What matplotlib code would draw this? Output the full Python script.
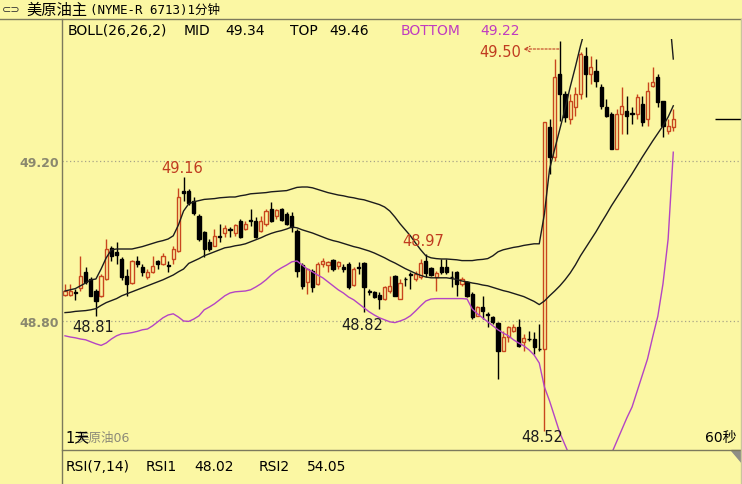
import matplotlib.pyplot as plt
from matplotlib.lines import Line2D
from matplotlib.patches import Polygon
import numpy as np

W, H = 742, 485
BG = '#fbf7a3'
UP = '#c8461e'
LABEL_RED = '#c03c20'
DARK = '#1c1c1c'
PURPLE = '#b444c4'
FRAME = '#7c7a5c'

# 1-minute candles
opens = [48.866, 48.866, 48.872, 48.882, 48.923, 48.905, 48.876, 48.863, 48.905, 48.982,
         48.972, 48.955, 48.912, 48.895, 48.951, 48.934, 48.909, 48.922, 48.949, 48.943,
         48.939, 48.955, 48.976, 49.125, 49.126, 49.100, 49.063, 49.022, 48.998, 48.988,
         49.012, 49.020, 49.030, 49.020, 49.051, 49.030, 49.052, 49.051, 49.026, 49.042,
         49.080, 49.063, 49.080, 49.067, 49.063, 49.025, 48.940, 48.897, 48.926, 48.893,
         48.943, 48.940, 48.952, 48.938, 48.934, 48.943, 48.890, 48.935, 48.945, 48.874,
         48.872, 48.866, 48.855, 48.874, 48.912, 48.856, 48.906, 48.918, 48.905, 48.910,
         48.950, 48.932, 48.910, 48.934, 48.934, 48.911, 48.922, 48.892, 48.897, 48.867,
         48.813, 48.834, 48.818, 48.809, 48.795, 48.726, 48.759, 48.776, 48.784, 48.747,
         48.756, 48.755, 48.731, 48.730, 49.284, 49.209, 49.418, 49.368, 49.305, 49.334,
         49.368, 49.463, 49.418, 49.426, 49.384, 49.334, 49.318, 49.230, 49.318, 49.326,
         49.320, 49.318, 49.343, 49.305, 49.388, 49.409, 49.351, 49.276, 49.284]
highs = [48.892, 48.892, 48.880, 48.962, 48.934, 48.909, 48.880, 48.917, 49.005, 48.988,
         48.998, 48.959, 48.930, 48.952, 48.962, 48.943, 48.930, 48.962, 48.952, 48.970,
         48.951, 48.988, 49.132, 49.159, 49.130, 49.110, 49.068, 49.026, 49.005, 49.030,
         49.042, 49.040, 49.034, 49.042, 49.055, 49.051, 49.080, 49.059, 49.063, 49.080,
         49.098, 49.080, 49.082, 49.072, 49.072, 49.030, 48.945, 48.932, 48.930, 48.947,
         48.957, 48.950, 48.955, 48.950, 48.943, 48.947, 48.935, 48.947, 48.948, 48.880,
         48.876, 48.872, 48.887, 48.913, 48.915, 48.905, 48.909, 48.922, 48.926, 48.955,
         48.968, 48.935, 48.926, 48.955, 48.955, 48.926, 48.926, 48.909, 48.900, 48.872,
         48.838, 48.863, 48.823, 48.813, 48.797, 48.776, 48.788, 48.792, 48.805, 48.768,
         48.776, 48.772, 48.792, 49.297, 49.305, 49.455, 49.500, 49.376, 49.368, 49.384,
         49.472, 49.484, 49.463, 49.455, 49.393, 49.355, 49.322, 49.330, 49.384, 49.363,
         49.334, 49.368, 49.363, 49.397, 49.434, 49.418, 49.351, 49.305, 49.330]
lows = [48.863, 48.863, 48.853, 48.876, 48.892, 48.863, 48.813, 48.861, 48.903, 48.951,
        48.943, 48.903, 48.863, 48.892, 48.934, 48.913, 48.905, 48.920, 48.930, 48.940,
        48.923, 48.943, 48.972, 49.100, 49.090, 49.065, 49.000, 48.959, 48.976, 48.987,
        48.997, 49.009, 49.009, 49.012, 49.007, 49.028, 49.038, 49.007, 49.022, 49.038,
        49.048, 49.055, 49.050, 49.040, 49.022, 48.910, 48.880, 48.868, 48.872, 48.890,
        48.936, 48.922, 48.925, 48.930, 48.923, 48.880, 48.888, 48.918, 48.822, 48.865,
        48.857, 48.830, 48.853, 48.870, 48.862, 48.855, 48.888, 48.880, 48.900, 48.905,
        48.910, 48.912, 48.876, 48.918, 48.917, 48.884, 48.863, 48.888, 48.859, 48.805,
        48.812, 48.805, 48.784, 48.792, 48.655, 48.726, 48.747, 48.772, 48.734, 48.726,
        48.751, 48.717, 48.726, 48.525, 49.167, 49.200, 49.300, 49.297, 49.293, 49.313,
        49.355, 49.359, 49.393, 49.384, 49.330, 49.309, 49.230, 49.230, 49.268, 49.268,
        49.293, 49.305, 49.288, 49.288, 49.384, 49.334, 49.259, 49.268, 49.276]
closes = [48.876, 48.875, 48.870, 48.913, 48.897, 48.863, 48.851, 48.913, 48.980, 48.963,
          48.966, 48.909, 48.892, 48.951, 48.943, 48.923, 48.923, 48.938, 48.943, 48.962,
          48.937, 48.980, 49.109, 49.120, 49.095, 49.070, 49.005, 48.980, 48.980, 49.012,
          49.010, 49.032, 49.027, 49.040, 49.010, 49.042, 49.050, 49.009, 49.051, 49.076,
          49.051, 49.078, 49.052, 49.042, 49.034, 48.925, 48.888, 48.930, 48.885, 48.942,
          48.951, 48.948, 48.930, 48.947, 48.931, 48.884, 48.930, 48.932, 48.884, 48.872,
          48.860, 48.855, 48.884, 48.887, 48.863, 48.895, 48.904, 48.916, 48.917, 48.945,
          48.920, 48.915, 48.921, 48.922, 48.922, 48.909, 48.892, 48.905, 48.863, 48.809,
          48.834, 48.826, 48.816, 48.797, 48.726, 48.759, 48.784, 48.784, 48.738, 48.757,
          48.754, 48.734, 48.729, 49.297, 49.209, 49.409, 49.368, 49.309, 49.351, 49.368,
          49.468, 49.418, 49.434, 49.401, 49.338, 49.313, 49.230, 49.318, 49.338, 49.313,
          49.318, 49.359, 49.297, 49.376, 49.397, 49.347, 49.288, 49.288, 49.305]

# BOLL(26,26,2) lines as drawn
boll_mid = [48.821, 48.822, 48.824, 48.825, 48.826, 48.828, 48.831, 48.839, 48.846, 48.851,
            48.856, 48.863, 48.868, 48.873, 48.878, 48.883, 48.888, 48.893, 48.898, 48.903,
            48.909, 48.915, 48.923, 48.930, 48.944, 48.950, 48.956, 48.963, 48.968, 48.973,
            48.978, 48.983, 48.985, 48.988, 48.990, 48.993, 48.998, 49.003, 49.008, 49.014,
            49.019, 49.023, 49.026, 49.030, 49.035, 49.033, 49.028, 49.024, 49.020, 49.015,
            49.010, 49.005, 49.001, 48.998, 48.994, 48.990, 48.986, 48.983, 48.979, 48.975,
            48.970, 48.964, 48.958, 48.951, 48.945, 48.938, 48.931, 48.925, 48.919, 48.914,
            48.910, 48.908, 48.908, 48.908, 48.908, 48.906, 48.904, 48.900, 48.898, 48.895,
            48.893, 48.890, 48.888, 48.884, 48.880, 48.876, 48.873, 48.869, 48.865, 48.861,
            48.855, 48.849, 48.841, 48.850, 48.863, 48.875, 48.888, 48.903, 48.920, 48.940,
            48.963, 48.983, 49.003, 49.023, 49.045, 49.066, 49.088, 49.108, 49.128, 49.148,
            49.168, 49.189, 49.210, 49.230, 49.250, 49.269, 49.288, 49.310, 49.338]
boll_top = [48.875, 48.878, 48.881, 48.888, 48.895, 48.903, 48.905, 48.930, 48.958, 48.978,
            48.980, 48.980, 48.980, 48.980, 48.983, 48.986, 48.990, 48.994, 48.998, 49.001,
            49.005, 49.013, 49.040, 49.075, 49.093, 49.098, 49.101, 49.104, 49.105, 49.106,
            49.108, 49.109, 49.110, 49.110, 49.113, 49.115, 49.118, 49.119, 49.120, 49.121,
            49.123, 49.124, 49.125, 49.126, 49.130, 49.134, 49.135, 49.135, 49.133, 49.129,
            49.125, 49.121, 49.118, 49.115, 49.113, 49.110, 49.108, 49.105, 49.103, 49.099,
            49.095, 49.091, 49.085, 49.075, 49.060, 49.043, 49.028, 49.013, 48.995, 48.978,
            48.963, 48.958, 48.956, 48.955, 48.955, 48.954, 48.953, 48.951, 48.951, 48.951,
            48.953, 48.954, 48.956, 48.963, 48.973, 48.978, 48.981, 48.984, 48.986, 48.989,
            48.991, 48.993, 48.993, 49.068, 49.180, 49.230, 49.280, 49.330, 49.385, 49.435,
            49.488, 49.535, 49.640, 49.660, 49.660, 49.670, 49.700, 49.710, 49.720, 49.720,
            49.750, 49.740, 49.740, 49.740, 49.730, 49.730, 49.670, 49.600, 49.455]
boll_bot = [48.763, 48.760, 48.758, 48.755, 48.753, 48.748, 48.743, 48.739, 48.745, 48.755,
            48.763, 48.768, 48.769, 48.771, 48.774, 48.778, 48.780, 48.788, 48.798, 48.808,
            48.815, 48.818, 48.810, 48.800, 48.799, 48.805, 48.813, 48.828, 48.835, 48.843,
            48.853, 48.863, 48.870, 48.873, 48.874, 48.875, 48.878, 48.885, 48.893, 48.903,
            48.915, 48.925, 48.933, 48.940, 48.948, 48.950, 48.940, 48.930, 48.923, 48.915,
            48.908, 48.898, 48.888, 48.878, 48.870, 48.860, 48.853, 48.843, 48.833, 48.823,
            48.815, 48.808, 48.803, 48.798, 48.796, 48.800, 48.805, 48.813, 48.825, 48.838,
            48.850, 48.855, 48.856, 48.856, 48.856, 48.856, 48.856, 48.856, 48.855, 48.830,
            48.818, 48.808, 48.798, 48.788, 48.778, 48.770, 48.763, 48.753, 48.745, 48.738,
            48.728, 48.715, 48.695, 48.635, 48.600, 48.560, 48.520, 48.490, 48.460, 48.425,
            48.385, 48.355, 48.343, 48.368, 48.405, 48.440, 48.468, 48.498, 48.528, 48.558,
            48.585, 48.625, 48.665, 48.705, 48.760, 48.812, 48.893, 49.005, 49.222]

y_ticks = [48.80, 49.20]
header = ['BOLL(26,26,2)', 'MID', '49.34', 'TOP', '49.46', 'BOTTOM', '49.22']
rsi_header = ['RSI(7,14)', 'RSI1', '48.02', 'RSI2', '54.05']


def fx(px):
    return px / W


def fy(py):
    return 1 - py / H


def fig_line(fig, x0, y0, x1, y1, **kw):
    fig.add_artist(Line2D([fx(x0), fx(x1)], [fy(y0), fy(y1)],
                          transform=fig.transFigure, **kw))


def main():
    plt.rcParams['font.family'] = ['DejaVu Sans', 'Noto Sans CJK SC']
    fig = plt.figure(figsize=(W / 100, H / 100), dpi=100, facecolor=BG)

    step = 5.155  # px per candle
    ax = fig.add_axes([fx(62), fy(451), (740 - 62) / W, (451 - 40) / H])
    ax.patch.set_visible(False)
    ax.set_xlim(-3 / step, (740 - 65) / step)
    ax.set_ylim(48.4775, 49.505)
    for s in ax.spines.values():
        s.set_visible(False)
    ax.set_xticks([])
    ax.set_yticks(y_ticks)
    ax.set_yticklabels([f'{v:.2f}' for v in y_ticks])
    ax.tick_params(axis='y', length=0, pad=2, labelsize=9, labelcolor='#8a886e')
    for t in ax.get_yticklabels():
        t.set_fontweight('bold')
    for v in y_ticks:
        ax.axhline(v, color='#a8a488', lw=0.9, ls=(0, (1, 2)), zorder=1)

    idx = np.arange(len(closes))
    o, h, l, c = map(np.array, (opens, highs, lows, closes))
    up = c >= o
    ax.vlines(idx, l, h, colors=np.where(up, UP, 'black'), lw=1, zorder=3)
    ax.bar(idx[up], (c - o)[up], bottom=o[up], width=0.62,
           facecolor=BG, edgecolor=UP, lw=1, zorder=4)
    ax.bar(idx[~up], (c - o)[~up], bottom=o[~up], width=0.62,
           facecolor='black', edgecolor='black', lw=1, zorder=4)

    ax.plot(idx, boll_top, color=DARK, lw=1, zorder=5)
    ax.plot(idx, boll_mid, color=DARK, lw=1, zorder=5)
    ax.plot(idx, boll_bot, color=PURPLE, lw=1, zorder=5)

    # last price marker on the right edge
    ax.hlines(closes[-1], (715 - 65) / step, (742 - 65) / step, color='black', lw=1, clip_on=False)

    def mark(i, price, text, dx, dy, color):
        ax.annotate(text, xy=(i, price), xytext=(dx, dy), textcoords='offset pixels',
                    ha='center', va='center', fontsize=10.5, color=color, zorder=6)

    mark(23, highs[23], '49.16', -1.5, 10, LABEL_RED)
    mark(6, lows[6], '48.81', -2.5, -10.5, DARK)
    mark(58, lows[58], '48.82', -1.5, -12, DARK)
    mark(70, highs[70], '48.97', -3, 13, LABEL_RED)
    mark(93, lows[93], '48.52', -2.5, -6, DARK)
    mark(96, highs[96], '49.50', -60, -10, LABEL_RED)
    ax.annotate('', xy=(96 - 7.1, highs[96] - 0.02), xytext=(96 - 0.2, highs[96] - 0.02),
                arrowprops=dict(arrowstyle='->', color=LABEL_RED, lw=0.8,
                                linestyle=(0, (2, 1.5)), shrinkA=0, shrinkB=0))

    # frame
    fig_line(fig, 0, 19.5, 742, 19.5, color=FRAME, lw=1)
    fig_line(fig, 62, 19.5, 62, 485, color=FRAME, lw=1)
    fig_line(fig, 62, 451, 742, 451, color=FRAME, lw=1)
    fig_line(fig, 740.5, 19.5, 740.5, 485, color='#c9c59c', lw=1)
    fig.add_artist(Polygon([(fx(731), fy(451)), (fx(742), fy(451)), (fx(742), fy(464))],
                           closed=True, transform=fig.transFigure, color='#8e8e86'))

    # header row
    fig.text(fx(2), fy(10), '⊂⊃', fontsize=8, va='center', color='#333333')
    fig.text(fx(26), fy(10), '美原油主', fontsize=11, va='center', color='black')
    fig.text(fx(90), fy(10.5), '(NYME-R 6713)1分钟', fontsize=9, va='center', color='black',
             family=['DejaVu Sans Mono', 'Noto Sans CJK SC'])

    boll_x = [68, 184, 225, 290, 329, 401, 480]
    boll_c = ['black', 'black', 'black', 'black', 'black', '#c03cc0', '#c03cc0']
    for txt, x, col in zip(header, boll_x, boll_c):
        fig.text(fx(x), fy(31), txt, fontsize=10, va='center', color=col)

    rsi_x = [66, 146, 194, 259, 307]
    for txt, x in zip(rsi_header, rsi_x):
        fig.text(fx(x), fy(467), txt, fontsize=10, va='center', color='black')

    fig.text(fx(76), fy(438), '美原油06', fontsize=9, va='center', color='#8c8a78')
    fig.text(fx(65), fy(438), '1天', fontsize=10.5, va='center', color='black')
    fig.text(fx(705), fy(438), '60秒', fontsize=10, va='center', color='black')
    fig.text(fx(59), fy(490), '00', fontsize=9, ha='right', va='center',
             color='#8a886e', fontweight='bold')

    fig.savefig('out.png', dpi=100, facecolor=BG)


if __name__ == '__main__':
    main()
